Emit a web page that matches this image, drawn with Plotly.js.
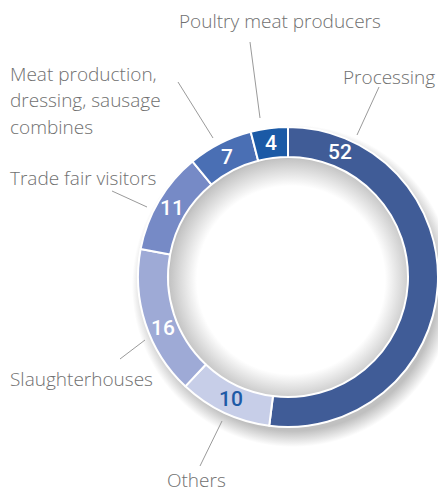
<!DOCTYPE html>
<html><head><meta charset="utf-8">
<script src="https://cdn.plot.ly/plotly-3.0.1.min.js"></script>
<style>
html,body{margin:0;padding:0;background:#fff;}
#wrap{position:relative;width:438px;height:493px;overflow:hidden;}
#bg{position:absolute;left:0;top:0;width:438px;height:493px;
 background:
  radial-gradient(circle at 291px 280px, #ffffff 0px, #ffffff 94px, #c4c4c4 121px, rgba(196,196,196,0) 121.5px),
  radial-gradient(circle at 293px 286px, #c0c0c0 0px, #c0c0c0 145px, rgba(192,192,192,0) 161px),
  #ffffff;}
#chart{position:absolute;left:0;top:0;width:438px;height:493px;}
</style></head><body>
<div id="wrap"><div id="bg"></div><div id="chart"></div></div>
<script>
// ---- data ----
const categories = ['Processing', 'Others', 'Slaughterhouses', 'Trade fair visitors',
  'Meat production,<br>dressing, sausage<br>combines', 'Poultry meat producers'];
const values = [52, 10, 16, 11, 7, 4];
const valueLabels = ['52', '10', '16', '11', '7', '4'];

// ---- styles ----
const sliceColors = ['#405c97', '#c7cee8', '#9eaad6', '#768ac6', '#4a6fb4', '#1b5aa6'];
const valueColors = ['#ffffff', '#1e5aa6', '#ffffff', '#ffffff', '#ffffff', '#ffffff'];
const valuePosInSlice = [0.12, 0.5, 0.43, 0.5, 0.5, 0.5];

// ---- layout geometry (pixels) ----
const W = 438, H = 493, CX = 288, CY = 277, R = 150, HOLE = 0.8, RTEXT = 135;
const labelPlace = [
  {x: 436, y: 77,  anchor: 'right',  lineGap: 26, line: [[379, 87], [357, 135]]},
  {x: 196, y: 480, anchor: 'center', lineGap: 26, line: [[200, 466], [222, 421]]},
  {x: 9,   y: 379, anchor: 'left',   lineGap: 26, line: [[120, 359], [145, 340]]},
  {x: 9,   y: 178, anchor: 'left',   lineGap: 26, line: [[112, 191], [147, 207]]},
  {x: 9,   y: 74,  anchor: 'left',   lineGap: 26.5, line: [[178, 82], [213, 138]]},
  {x: 280, y: 21,  anchor: 'center', lineGap: 26, line: [[250, 42], [260, 118]]}
];

const px = x => x / W, py = y => 1 - y / H;

const annotations = [];
const shapes = [];

// value labels computed from the data
const total = values.reduce((a, b) => a + b, 0);
let cum = 0;
values.forEach((v, i) => {
  const frac = (cum + v * valuePosInSlice[i]) / total;
  cum += v;
  const ang = frac * 2 * Math.PI;
  const x = CX + RTEXT * Math.sin(ang);
  const y = CY - RTEXT * Math.cos(ang);
  annotations.push({
    xref: 'paper', yref: 'paper', x: px(x), y: py(y),
    xanchor: 'center', yanchor: 'middle', showarrow: false,
    text: valueLabels[i],
    font: {family: 'Roboto, Open Sans, sans-serif', size: 21, weight: 500, color: valueColors[i]}
  });
});

// category labels and leader lines
categories.forEach((c, i) => {
  const p = labelPlace[i];
  const lines = c.split('<br>');
  lines.forEach((t, k) => {
    annotations.push({
      xref: 'paper', yref: 'paper', x: px(p.x), y: py(p.y + k * p.lineGap),
      xanchor: p.anchor, yanchor: 'middle', showarrow: false, text: t,
      borderpad: 0,
      font: {family: 'Open Sans, sans-serif', size: 19, weight: 300, color: '#707070'}
    });
  });
  shapes.push({
    type: 'line', xref: 'paper', yref: 'paper',
    x0: px(p.line[0][0]), y0: py(p.line[0][1]), x1: px(p.line[1][0]), y1: py(p.line[1][1]),
    line: {color: '#9a9a9a', width: 1}
  });
});

const trace = {
  type: 'pie',
  labels: categories,
  values: values,
  sort: false,
  direction: 'clockwise',
  rotation: 0,
  hole: HOLE,
  textinfo: 'none',
  hoverinfo: 'none',
  marker: {colors: sliceColors, line: {color: '#ffffff', width: 2}},
  domain: {x: [px(CX - R), px(CX + R)], y: [py(CY + R), py(CY - R)]}
};

Plotly.newPlot('chart', [trace], {
  width: W, height: H,
  margin: {l: 0, r: 0, t: 0, b: 0},
  paper_bgcolor: 'rgba(0,0,0,0)', plot_bgcolor: 'rgba(0,0,0,0)',
  showlegend: false,
  annotations: annotations,
  shapes: shapes
}, {staticPlot: true, displayModeBar: false});
</script>
</body></html>
